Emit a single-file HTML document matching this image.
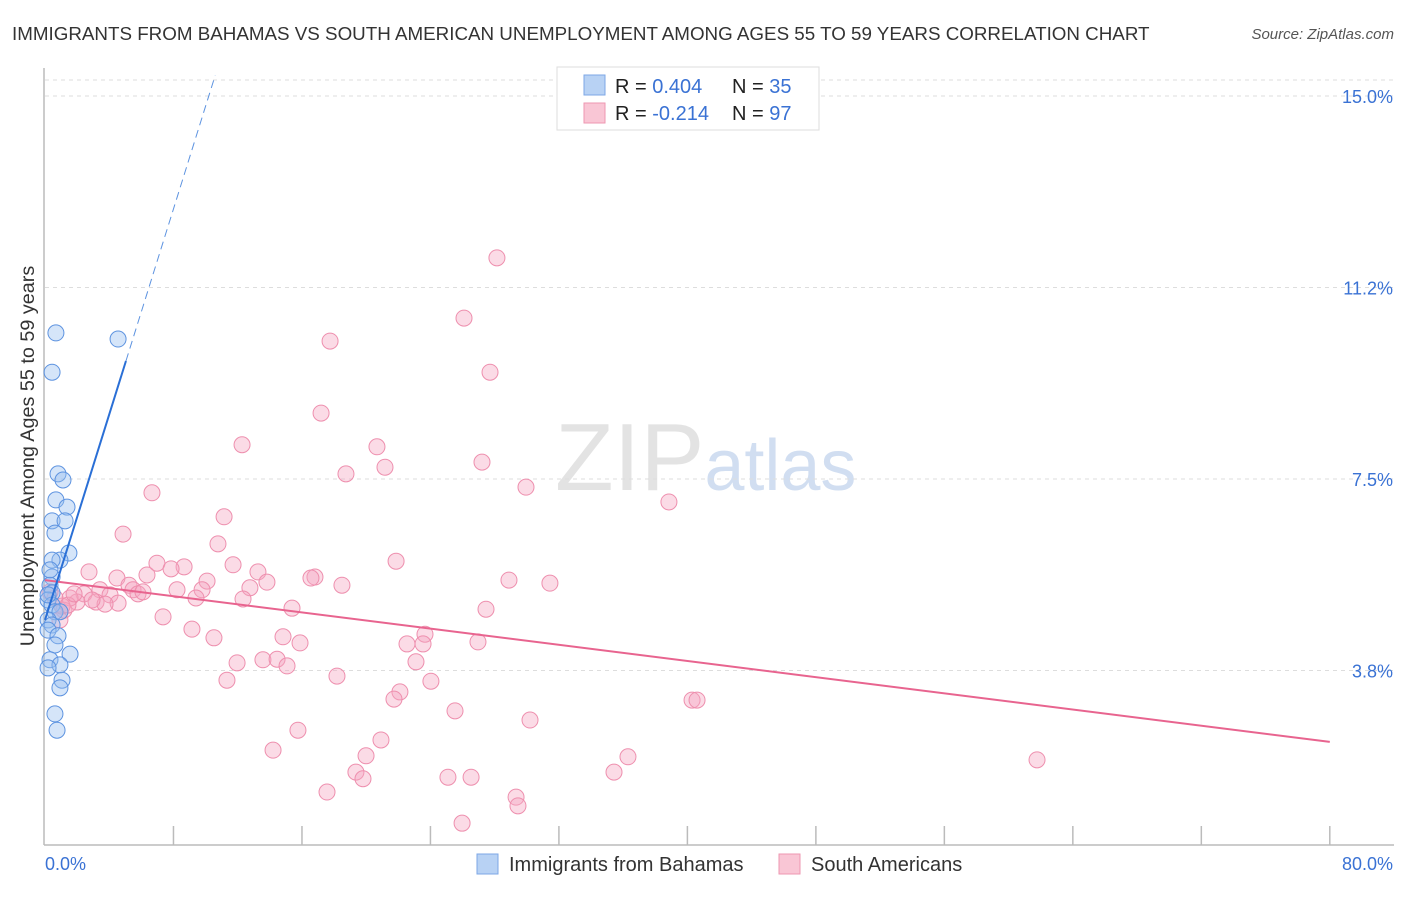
<!DOCTYPE html>
<html><head><meta charset="utf-8"><style>
body{margin:0;background:#fff;font-family:"Liberation Sans",sans-serif;}
svg text{font-family:"Liberation Sans",sans-serif;}
</style></head><body>
<svg id="chart" width="1406" height="892" xmlns="http://www.w3.org/2000/svg">
<text x="12" y="40" font-size="18.8" fill="#333">IMMIGRANTS FROM BAHAMAS VS SOUTH AMERICAN UNEMPLOYMENT AMONG AGES 55 TO 59 YEARS CORRELATION CHART</text>
<text x="1394" y="39" font-size="15" fill="#555" font-style="italic" text-anchor="end">Source: ZipAtlas.com</text>
<text transform="translate(34,456) rotate(-90)" font-size="19.8" fill="#333" text-anchor="middle">Unemployment Among Ages 55 to 59 years</text>
<text x="555" y="490" font-size="96" fill="#ddd" font-family="Liberation Serif" opacity="0.8">ZIP<tspan fill="#c6d6ee" font-family="Liberation Sans" font-size="72">atlas</tspan></text>
<g id="grid"></g><g id="axes"></g><g id="marks"></g>
<g>
<rect x="557" y="67" width="262" height="63" fill="#fff" stroke="#ddd"/>
<rect x="584" y="75" width="21" height="20" fill="#b8d2f4" stroke="#7da7e6"/>
<rect x="584" y="103" width="21" height="20" fill="#f9c6d5" stroke="#ee97b1"/>
<text x="615" y="93" font-size="20" fill="#222">R = <tspan fill="#3a72d4">0.404</tspan><tspan x="732">N = </tspan><tspan fill="#3a72d4">35</tspan></text>
<text x="615" y="120" font-size="20" fill="#222">R = <tspan fill="#3a72d4">-0.214</tspan><tspan x="732">N = </tspan><tspan fill="#3a72d4">97</tspan></text>
</g>
<g>
<rect x="477" y="854" width="21" height="20" fill="#b8d2f4" stroke="#7da7e6"/>
<text x="509" y="871" font-size="20" fill="#333">Immigrants from Bahamas</text>
<rect x="779" y="854" width="21" height="20" fill="#f9c6d5" stroke="#ee97b1"/>
<text x="811" y="871" font-size="20" fill="#333">South Americans</text>
</g>
</svg>
<script>
const yTicks=[15,11.25,7.5,3.75];
const yTickLabels=["15.0%","11.2%","7.5%","3.8%"];
const xTickLabels=["0.0%","80.0%"];
const blueX=[0.68,4.55,0.44,0.81,1.12,0.68,1.37,0.44,1.25,0.62,1.49,0.93,0.44,0.44,0.31,0.44,0.19,0.44,0.62,0.93,0.19,0.44,0.19,0.81,0.62,1.56,0.31,0.93,0.19,1.06,0.93,0.62,0.75,0.19,0.31];
const blueY=[10.36,10.24,9.59,7.60,7.48,7.09,6.95,6.68,6.68,6.44,6.05,5.91,5.91,5.58,5.42,5.27,5.13,5.03,4.90,4.90,4.74,4.64,4.54,4.43,4.25,4.07,3.96,3.86,3.80,3.56,3.41,2.90,2.58,5.23,5.72];
const pinkX=[28.14,26.09,17.75,27.71,17.19,12.27,20.67,27.21,18.74,21.17,29.95,6.66,38.85,11.15,4.86,10.77,21.86,6.97,11.71,2.74,8.66,13.26,16.81,7.85,4.48,6.35,13.82,10.09,16.56,18.49,28.89,31.44,5.23,5.48,8.22,9.78,5.79,6.10,12.76,3.42,2.43,4.05,4.55,3.18,1.99,9.40,12.33,3.74,2.93,1.56,1.18,15.38,27.46,7.35,9.15,23.66,14.82,10.52,15.88,22.54,23.54,26.96,11.96,13.57,14.45,15.07,23.10,11.33,18.18,24.03,22.10,21.73,40.29,40.60,25.53,30.20,15.75,14.20,20.92,19.99,36.30,61.77,19.36,35.43,25.09,26.53,19.80,17.56,29.33,29.45,25.97,0.93,1.06,0.62,0.31,1.43,1.81];
const pinkY=[11.83,10.65,10.20,9.59,8.79,8.17,8.13,7.83,7.60,7.73,7.34,7.23,7.05,6.76,6.42,6.23,5.89,5.85,5.82,5.68,5.78,5.68,5.58,5.74,5.56,5.62,5.48,5.50,5.56,5.42,5.52,5.46,5.42,5.33,5.33,5.33,5.25,5.29,5.37,5.33,5.25,5.23,5.07,5.09,5.09,5.17,5.15,5.05,5.13,5.17,4.93,4.97,4.95,4.80,4.56,4.46,4.41,4.39,4.29,4.27,4.27,4.31,3.90,3.96,3.97,3.84,3.92,3.56,3.64,3.54,3.33,3.19,3.17,3.17,2.96,2.78,2.58,2.19,2.39,2.08,2.06,2.00,1.76,1.76,1.66,1.66,1.63,1.37,1.27,1.10,0.76,4.74,5.01,5.17,5.29,5.03,5.25];
const blueTrend=[4.74,1.006];
const pinkTrend=[5.52,-0.0396];
const X=v=>45+v*16.06, Y=v=>862-v*51.07;
const NS="http://www.w3.org/2000/svg";
function mk(tag,attrs,parent){const e=document.createElementNS(NS,tag);for(const k in attrs)e.setAttribute(k,attrs[k]);document.getElementById(parent).appendChild(e);return e;}
mk('line',{x1:45,x2:1394,y1:80,y2:80,stroke:'#ddd','stroke-dasharray':'4 4'},'grid');
yTicks.forEach((t,i)=>{
 const g=mk('line',{x1:45,x2:1394,y1:Y(t),y2:Y(t),stroke:'#ddd','stroke-dasharray':'4 4'},'grid');
 
 
 const l=mk('text',{x:1393,y:Y(t)+7,'font-size':18,fill:'#3a72d4','text-anchor':'end'},'axes');
 l.textContent=yTickLabels[i];
 
 
});
mk('line',{x1:44,x2:44,y1:68,y2:845,stroke:'#bbb','stroke-width':1.5},'axes');
mk('line',{x1:44,x2:1394,y1:845,y2:845,stroke:'#bbb','stroke-width':1.5},'axes');
for(let i=1;i<=10;i++){const t=mk('line',{x1:X(i*8),x2:X(i*8),y1:826,y2:845,stroke:'#bbb','stroke-width':1.5},'axes');
 
 }
const xl0=mk('text',{x:45,y:870,'font-size':18,fill:'#3a72d4'},'axes');xl0.textContent=xTickLabels[0];

const xl1=mk('text',{x:1393,y:870,'font-size':18,fill:'#3a72d4','text-anchor':'end'},'axes');xl1.textContent=xTickLabels[1];

pinkX.forEach((x,i)=>{const c=mk('circle',{cx:X(x),cy:Y(pinkY[i]),r:8,fill:'rgba(246,166,192,0.4)',stroke:'#ee8fae','stroke-width':1},'marks');
 
 });
blueX.forEach((x,i)=>{const c=mk('circle',{cx:X(x),cy:Y(blueY[i]),r:8,fill:'rgba(150,190,240,0.4)',stroke:'#5d93e0','stroke-width':1},'marks');
 
 });
const pl=mk('line',{x1:X(0),y1:Y(pinkTrend[0]),x2:X(80),y2:Y(pinkTrend[0]+pinkTrend[1]*80),stroke:'#e8648f','stroke-width':2},'marks');

const bl=mk('line',{x1:X(0),y1:Y(blueTrend[0]),x2:X(5.04),y2:Y(blueTrend[0]+blueTrend[1]*5.04),stroke:'#2a6fd6','stroke-width':2},'marks');

const bd=mk('line',{x1:X(5.04),y1:Y(blueTrend[0]+blueTrend[1]*5.04),x2:X(10.6),y2:Y(blueTrend[0]+blueTrend[1]*10.6),stroke:'#5d93e0','stroke-width':1,'stroke-dasharray':'8 5'},'marks');

</script>
</body></html>
